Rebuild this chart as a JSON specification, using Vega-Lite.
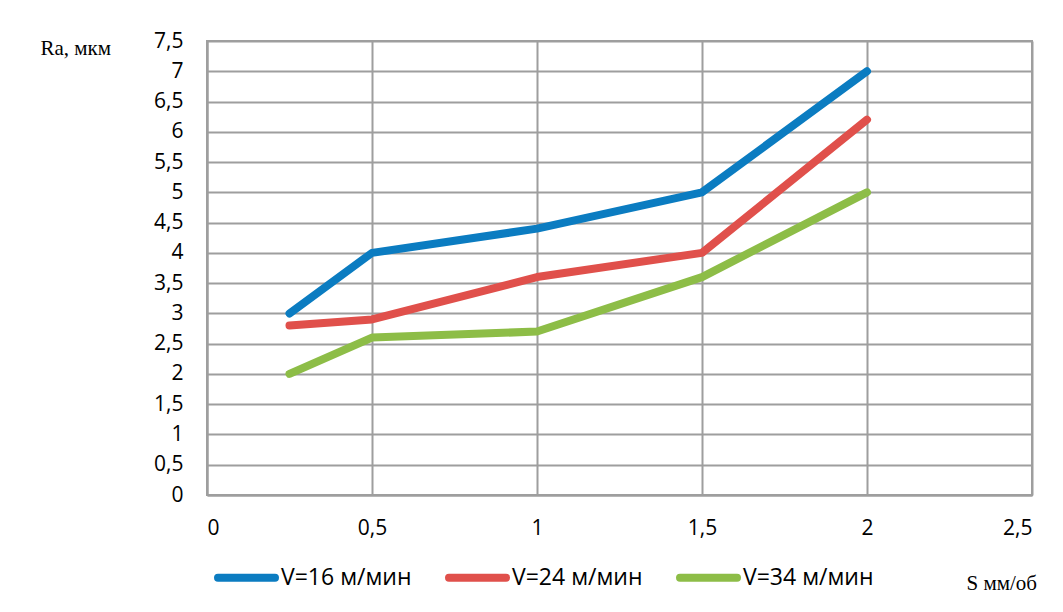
{
  "$schema": "https://vega.github.io/schema/vega-lite/v6.json",
  "autosize": {"type": "none"},
  "width": 825,
  "height": 454,
  "padding": {"left": 207, "top": 41, "right": 31, "bottom": 117},
  "background": "white",
  "config": {
    "locale": {"number": {"decimal": ",", "thousands": " ", "grouping": [3], "currency": ["", ""]}},
    "view": {"stroke": "#9e9e9e", "strokeWidth": 2},
    "font": "Open Sans"
  },
  "data": {
    "values": [
      {"s": 0.25, "ra": 3.0, "v": "V=16 м/мин"},
      {"s": 0.5, "ra": 4.0, "v": "V=16 м/мин"},
      {"s": 1.0, "ra": 4.4, "v": "V=16 м/мин"},
      {"s": 1.5, "ra": 5.0, "v": "V=16 м/мин"},
      {"s": 2.0, "ra": 7.0, "v": "V=16 м/мин"},
      {"s": 0.25, "ra": 2.8, "v": "V=24 м/мин"},
      {"s": 0.5, "ra": 2.9, "v": "V=24 м/мин"},
      {"s": 1.0, "ra": 3.6, "v": "V=24 м/мин"},
      {"s": 1.5, "ra": 4.0, "v": "V=24 м/мин"},
      {"s": 2.0, "ra": 6.2, "v": "V=24 м/мин"},
      {"s": 0.25, "ra": 2.0, "v": "V=34 м/мин"},
      {"s": 0.5, "ra": 2.6, "v": "V=34 м/мин"},
      {"s": 1.0, "ra": 2.7, "v": "V=34 м/мин"},
      {"s": 1.5, "ra": 3.6, "v": "V=34 м/мин"},
      {"s": 2.0, "ra": 5.0, "v": "V=34 м/мин"}
    ]
  },
  "mark": {"type": "line", "strokeWidth": 8, "strokeCap": "round", "strokeJoin": "round"},
  "encoding": {
    "x": {
      "field": "s", "type": "quantitative",
      "scale": {"domain": [0, 2.5], "nice": false, "zero": false},
      "axis": {
        "values": [0, 0.5, 1, 1.5, 2, 2.5],
        "format": "~f",
        "title": "S мм/об",
        "titleFont": "Liberation Serif",
        "titleFontSize": 21,
        "titleFontWeight": "normal",
        "titleColor": "#000",
        "titleAlign": "left",
        "titleBaseline": "middle",
        "titleX": 759,
        "titleY": 88,
        "labelFontSize": 21,
        "labelColor": "#000",
        "labelPadding": 22,
        "tickSize": 0,
        "domainColor": "#9e9e9e",
        "domainWidth": 2,
        "gridColor": "#9e9e9e",
        "gridWidth": 2,
        "gridOpacity": 1
      }
    },
    "y": {
      "field": "ra", "type": "quantitative",
      "scale": {"domain": [0, 7.5], "nice": false},
      "axis": {
        "values": [0, 0.5, 1, 1.5, 2, 2.5, 3, 3.5, 4, 4.5, 5, 5.5, 6, 6.5, 7, 7.5],
        "format": "~f",
        "title": "Ra, мкм",
        "titleFont": "Liberation Serif",
        "titleFontSize": 21,
        "titleFontWeight": "normal",
        "titleColor": "#000",
        "titleAngle": 0,
        "titleAlign": "left",
        "titleBaseline": "middle",
        "titleX": -167,
        "titleY": 7,
        "labelFontSize": 21,
        "labelColor": "#000",
        "labelPadding": 24,
        "tickSize": 0,
        "domainColor": "#9e9e9e",
        "domainWidth": 2,
        "gridColor": "#9e9e9e",
        "gridWidth": 2,
        "gridOpacity": 1
      }
    },
    "color": {
      "field": "v", "type": "nominal",
      "scale": {"domain": ["V=16 м/мин", "V=24 м/мин", "V=34 м/мин"], "range": ["#0b7cc1", "#e0504b", "#8dbd47"]},
      "legend": {
        "title": null,
        "orient": "none",
        "direction": "horizontal",
        "legendX": 7,
        "legendY": 504,
        "symbolType": "stroke",
        "symbolSize": 3249,
        "symbolStrokeWidth": 8,
        "labelFontSize": 23,
        "labelColor": "#000",
        "labelOffset": 2,
        "columnPadding": 21,
        "labelLimit": 300,
        "encode": {"symbols": {"update": {"strokeCap": {"value": "round"}}}}
      }
    }
  }
}
